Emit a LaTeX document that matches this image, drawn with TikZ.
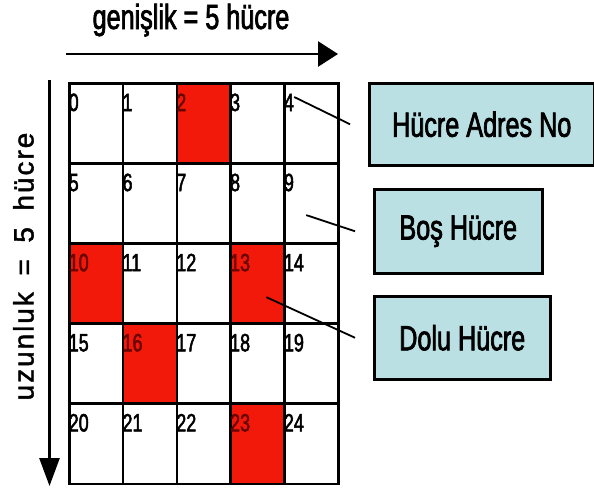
\documentclass[tikz,border=0pt]{standalone}
\usepackage{fontspec}
\setmainfont{Liberation Sans}[FakeStretch=0.72,FakeBold=2]
\newfontfamily\dikfont{Liberation Sans}[LetterSpace=7,WordSpace=1.7,FakeBold=1.5]
\usetikzlibrary{arrows.meta,positioning,calc}
\definecolor{hucreRed}{RGB}{243,25,10}
\definecolor{hucreDarkRed}{RGB}{105,5,0}
\definecolor{kutuBlue}{RGB}{186,224,227}
\tikzset{
  dolu2/.style={fill=hucreRed},  yazi2/.style={text=hucreDarkRed},
  dolu10/.style={fill=hucreRed}, yazi10/.style={text=hucreDarkRed},
  dolu13/.style={fill=hucreRed}, yazi13/.style={text=hucreDarkRed},
  dolu16/.style={fill=hucreRed}, yazi16/.style={text=hucreDarkRed},
  dolu23/.style={fill=hucreRed}, yazi23/.style={text=hucreDarkRed},
}

\begin{document}
\begin{tikzpicture}[x=1pt,y=-1pt,>=Latex,
  cell/.style={draw,line width=2.5pt,fill=white,minimum width=53.8pt,minimum height=80.1pt,inner sep=0pt,anchor=north west},
  num/.style={inner sep=0pt,anchor=base west,font=\fontsize{25}{28}\selectfont},
  kutu/.style={draw,line width=2.5pt,fill=kutuBlue,inner sep=0pt,anchor=north west,font=\fontsize{35}{40}\selectfont},
  bag/.style={line width=1.8pt},
  yon/.style={line width=2.7pt}]
\useasboundingbox (0,0) rectangle (594,488);
% 5x5 grid of cells
\foreach \r in {0,...,4}{
  \foreach \c in {0,...,4}{
    \pgfmathtruncatemacro{\i}{5*\r+\c}
    \node[cell,dolu\i/.try] (c\i) at (68+53.8*\c,82+80.1*\r) {};
    \node[num,yazi\i/.try] (n\i) at ([shift={(0.5,29)}]c\i.north west) {\i};
  }
}
% axis arrows and titles
\coordinate (gbas) at (66,54);
\coordinate (gson) at (338,54);
\draw[yon,-{Triangle[length=20pt,width=25pt]}] (gbas) -- (gson);
\node[inner sep=0pt,anchor=base,font=\fontsize{35}{40}\selectfont] (genislik) at (191,29) {genişlik = 5 hücre};
\coordinate (ubas) at (49.5,80);
\coordinate (uson) at (49.5,486);
\draw[yon,-{Triangle[length=28pt,width=20pt]}] (ubas) -- (uson);
\node[inner sep=0pt,rotate=90,anchor=base,font=\dikfont\fontsize{28}{32}\selectfont] (uzunluk) at (33.5,266.5) {uzunluk = 5 hücre};
% legend boxes
\node[kutu,minimum width=225pt,minimum height=82pt] (adres) at (368,82) {Hücre Adres No};
\node[kutu,minimum width=168pt,minimum height=84pt] (bos) at (373,188) {Boş Hücre};
\node[kutu,minimum width=176pt,minimum height=83pt] (dolu) at (373,295) {Dolu Hücre};
\coordinate (p4) at ([shift={(11,15)}]c4.north west);
\coordinate (p9) at ([shift={(23,53)}]c9.north west);
\coordinate (p13) at ([shift={(37,55)}]c13.north west);
\draw[bag] (p4) -- ([xshift=-18pt]adres.west);
\draw[bag] (p9) -- ([xshift=-18pt]bos.west);
\draw[bag] (p13) -- ([xshift=-18pt]dolu.west);
\end{tikzpicture}
\end{document}
